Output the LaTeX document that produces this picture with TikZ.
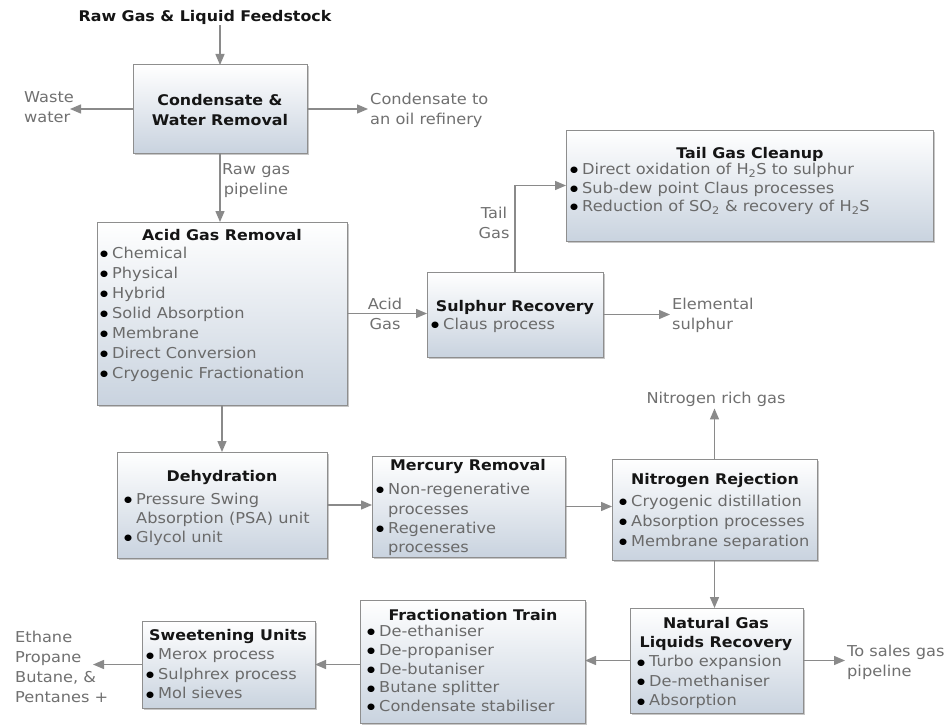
\documentclass[tikz,border=0pt]{standalone}
\usepackage{fontspec}
\setmainfont{DejaVu Sans}[FakeStretch=1.08]
\usetikzlibrary{arrows.meta,shadows}
\definecolor{boxline}{HTML}{8E8E8E}
\definecolor{boxfill}{HTML}{C9D3DF}
\definecolor{linegray}{HTML}{8A8A8A}
\definecolor{itemgray}{HTML}{6A6A6A}
\definecolor{lblgray}{HTML}{707070}
\definecolor{titleblack}{HTML}{151515}
\newcommand\bul{\makebox[12pt][l]{\textcolor{black}{\fontsize{8.5}{10}\selectfont\raisebox{1.8pt}{●}}}}
\newcommand\cont{\hspace*{12pt}}
\tikzset{
  procbox/.style={draw=boxline, line width=1pt, top color=white, bottom color=boxfill,
    inner sep=0pt, outer sep=0pt, anchor=north west,
    drop shadow={shadow xshift=1.5pt, shadow yshift=-1.5pt, fill=black, opacity=0.22}},
  ttl/.style={font=\fontsize{14.7}{20}\selectfont\bfseries, text=titleblack, inner sep=0pt},
  items/.style={font=\fontsize{15}{#1}\selectfont, text=itemgray, align=left, inner sep=0pt, anchor=north west},
  items/.default=20,
  lbl/.style={font=\fontsize{15}{20}\selectfont, text=lblgray, inner sep=2pt},
  arr/.style={draw=linegray, line width=1.4pt, -{Triangle[length=11pt,width=9pt]}}
}
\newcommand\procbox[5]{\node[procbox, minimum width=#4-#2, minimum height=#5-#3] (#1) at (#2,#3) {};}
\begin{document}
\begin{tikzpicture}[x=1pt,y=-1pt]
\useasboundingbox (0,0) rectangle (945,725);
\fill[white] (0,0) rectangle (945,725);

% boxes
\procbox{cwr}{133}{65}{307}{153}
\procbox{agr}{97}{222}{347}{405}
\procbox{sr}{427}{272}{603}{357}
\procbox{tgc}{566}{130}{933}{241}
\procbox{deh}{117}{452}{327}{558}
\procbox{mr}{372}{456}{565}{557}
\procbox{nr}{612}{459}{817}{560}
\procbox{ngl}{630}{608}{803}{713}
\procbox{ft}{360}{600}{585}{723}
\procbox{su}{142}{621}{315}{708}

% top feed
\node[ttl, anchor=base] (feed) at (205,22) {Raw Gas \& Liquid Feedstock};

% condensate & water removal
\node[ttl, align=center] (cwrt) at (220,110) {Condensate \&\\Water Removal};
\node[lbl, align=left, anchor=east] (waste) at (76,107) {Waste\\water};
\coordinate (wastetip) at (70,110);
\node[lbl, align=left, anchor=west] (oil) at (368,110) {Condensate to\\an oil refinery};
\node[lbl, align=center] (rgp) at (256,181) {Raw gas\\pipeline};

% acid gas removal
\node[ttl, anchor=base] (agrt) at (222,240) {Acid Gas Removal};
\node[items] (agri) at (100,244.5) {\strut\bul Chemical\\\bul Physical\\\bul Hybrid\\\bul Solid Absorption\\\bul Membrane\\\bul Direct Conversion\\\bul Cryogenic Fractionation};
\node[lbl, align=center] (acidlbl) at (385,314) {Acid\\Gas};

% sulphur recovery
\node[ttl, anchor=base] (srt) at (515,311) {Sulphur Recovery};
\node[items] (sri) at (431,315.5) {\strut\bul Claus process};
\node[lbl, align=left, anchor=west] (elem) at (670,315) {Elemental\\sulphur};
\node[lbl, align=center] (taillbl) at (494,223) {Tail\\Gas};

% tail gas cleanup
\node[ttl, anchor=base] (tgct) at (750,158) {Tail Gas Cleanup};
\node[items=18.5] (tgci) at (570,161.5) {\strut\bul Direct oxidation of H\textsubscript{2}S to sulphur\\\bul Sub-dew point Claus processes\\\bul Reduction of SO\textsubscript{2} \& recovery of H\textsubscript{2}S};

% dehydration
\node[ttl, anchor=base] (deht) at (222,481) {Dehydration};
\node[items=19] (dehi) at (124,491) {\strut\bul Pressure Swing\\\cont Absorption (PSA) unit\\\bul Glycol unit};

% mercury removal
\node[ttl, anchor=base] (mrt) at (468,470) {Mercury Removal};
\node[items=19.3] (mri) at (376,481) {\strut\bul Non-regenerative\\\cont processes\\\bul Regenerative\\\cont processes};

% nitrogen rejection
\node[ttl, anchor=base] (nrt) at (715,484) {Nitrogen Rejection};
\node[items] (nri) at (619,492.5) {\strut\bul Cryogenic distillation\\\bul Absorption processes\\\bul Membrane separation};
\node[lbl] (nrg) at (716,399) {Nitrogen rich gas};

% NGL recovery
\node[ttl, align=center, anchor=north, font=\fontsize{14.7}{19}\selectfont\bfseries] (nglt) at (716,614.5) {\strut Natural Gas\\Liquids Recovery};
\node[items=19.5] (ngli) at (637,653) {\strut\bul Turbo expansion\\\bul De-methaniser\\\bul Absorption};
\node[lbl, align=left, anchor=west] (sales) at (845,662) {To sales gas\\pipeline};

% fractionation train
\node[ttl, anchor=base] (ftt) at (473,620) {Fractionation Train};
\node[items=18.75] (fti) at (367,623.4) {\strut\bul De-ethaniser\\\bul De-propaniser\\\bul De-butaniser\\\bul Butane splitter\\\bul Condensate stabiliser};

% sweetening units
\node[ttl, anchor=base] (sut) at (228,640) {Sweetening Units};
\node[items=19.5] (sui) at (146,646) {\strut\bul Merox process\\\bul Sulphrex process\\\bul Mol sieves};
\node[lbl, align=left, anchor=west] (prod) at (13,667) {Ethane\\Propane\\Butane, \&\\Pentanes +};
\coordinate (prodtip) at (93,665);

% connectors
\draw[arr] (feed.south -| cwr.north) -- (cwr.north);
\draw[arr] (cwr.west) -- (cwr.west -| wastetip);
\draw[arr] (cwr.east) -- (cwr.east -| oil.west);
\draw[arr] (cwr.south) -- (cwr.south |- agr.north);
\draw[arr] (agr.south) -- (agr.south |- deh.north);
\draw[arr] (agr.east) -- (agr.east -| sr.west);
\draw[arr] (sr.east) -- (sr.east -| elem.west);
\draw[arr] (sr.north) |- (tgc.west);
\draw[arr] (deh.east) -- (deh.east -| mr.west);
\draw[arr] (mr.east) -- (mr.east -| nr.west);
\draw[arr] (nr.north) -- (nr.north |- nrg.south);
\draw[arr] (nr.south) -- (nr.south |- ngl.north);
\draw[arr] (ngl.east) -- (ngl.east -| sales.west);
\draw[arr] (ngl.west) -- (ngl.west -| ft.east);
\draw[arr] (ft.west |- su.east) -- (su.east);
\draw[arr] (su.west) -- (su.west -| prodtip);
\end{tikzpicture}
\end{document}
